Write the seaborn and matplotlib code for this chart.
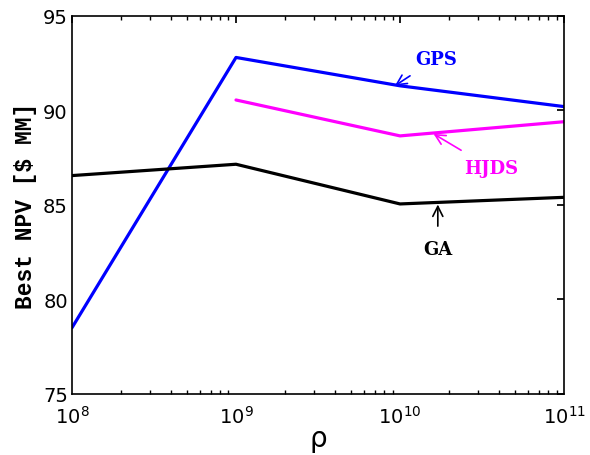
import matplotlib

matplotlib.use("Agg")
import matplotlib.pyplot as plt
import pandas as pd
import seaborn as sns

# values
rho = [1e8, 1e9, 1e10, 1e11]
gps = [78.5, 92.8, 91.3, 90.2]
hjds_rho = [1e9, 1e10, 1e11]
hjds = [90.55, 88.65, 89.4]
ga = [86.55, 87.15, 85.05, 85.4]

sns.set_theme(style="white")
plt.rcParams["font.family"] = ["DejaVu Sans"]
plt.rcParams["text.color"] = "black"
plt.rcParams["axes.labelcolor"] = "black"
plt.rcParams["xtick.color"] = "black"
plt.rcParams["ytick.color"] = "black"

df = pd.concat(
    [
        pd.DataFrame({"rho": rho, "npv": gps, "method": "GPS"}),
        pd.DataFrame({"rho": hjds_rho, "npv": hjds, "method": "HJDS"}),
        pd.DataFrame({"rho": rho, "npv": ga, "method": "GA"}),
    ],
    ignore_index=True,
)
palette = {"GPS": "#0000ff", "HJDS": "#ff00ff", "GA": "#000000"}

fig, ax = plt.subplots(figsize=(5.9, 4.56), dpi=100)
sns.lineplot(data=df, x="rho", y="npv", hue="method", palette=palette,
             linewidth=2.3, legend=False, ax=ax)

ax.set_xscale("log")
ax.set_xlim(1e8, 1e11)
ax.set_ylim(75, 95)
ax.set_yticks([75, 80, 85, 90, 95])
ax.set_xticks(rho)

for s in ax.spines.values():
    s.set_color("black")
    s.set_linewidth(1.2)
ax.tick_params(which="both", direction="in", top=True, right=True,
               labelsize=14, color="black", labelcolor="black")
ax.tick_params(which="major", length=5)
ax.tick_params(which="minor", length=3, bottom=True, top=True)
ax.tick_params(axis="x", pad=8)
ax.tick_params(axis="y", pad=3)

ax.set_xlabel("ρ", fontsize=20, labelpad=-2, color="black")
ax.set_ylabel("Best NPV [$ MM]", fontsize=16.5, fontweight="bold",
              family="Liberation Mono", labelpad=4, color="black")

lab = dict(fontsize=13, fontweight="bold", family="DejaVu Serif",
           ha="center", va="center")
ax.annotate("GPS", xy=(9.3e9, 91.3), xytext=(1.65e10, 92.72), color="#0000ff",
            arrowprops=dict(arrowstyle="->", color="#0000ff", lw=1.2,
                            shrinkA=6, shrinkB=0, mutation_scale=18), **lab)
ax.annotate("HJDS", xy=(1.6e10, 88.76), xytext=(3.6e10, 86.94), color="#ff00ff",
            arrowprops=dict(arrowstyle="->", color="#ff00ff", lw=1.2,
                            shrinkA=8, shrinkB=0, mutation_scale=18), **lab)
ax.annotate("GA", xy=(1.7e10, 85.02), xytext=(1.7e10, 82.64), color="black",
            arrowprops=dict(arrowstyle="->", color="black", lw=1.2,
                            shrinkA=8, shrinkB=0, mutation_scale=18), **lab)

fig.subplots_adjust(left=0.122, right=0.956, top=0.963, bottom=0.134)
fig.savefig("out.png", dpi=100)
